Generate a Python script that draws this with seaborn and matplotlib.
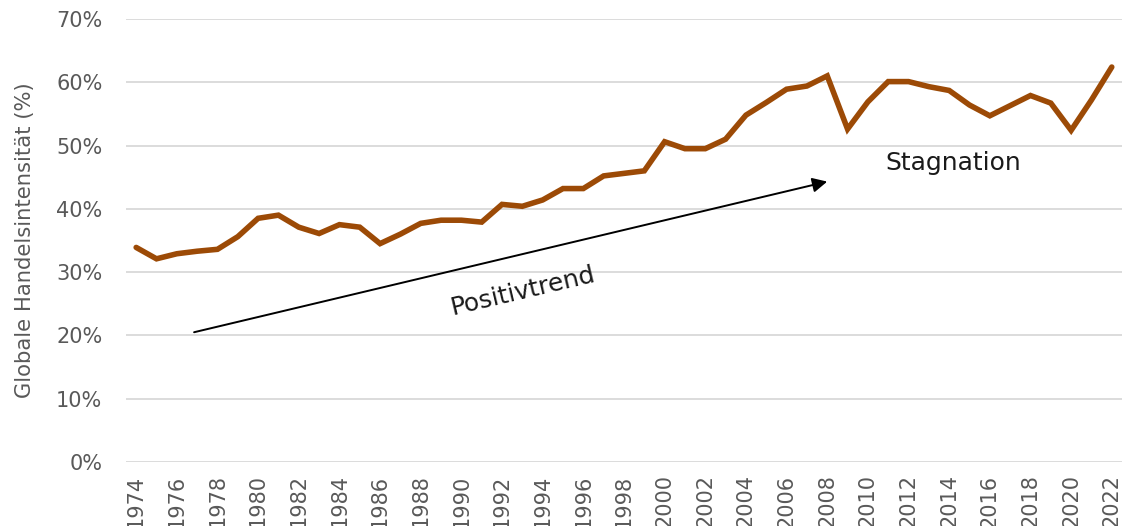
import pandas as pd
import matplotlib.pyplot as plt
import seaborn as sns

# Globale Handelsintensität in %
years = list(range(1974, 2023))
intensity = [
    33.9, 32.1, 32.9, 33.3, 33.6, 35.6, 38.5, 39.0, 37.1, 36.1,
    37.5, 37.1, 34.5, 36.0, 37.7, 38.2, 38.2, 37.9, 40.7, 40.4,
    41.4, 43.2, 43.2, 45.2, 45.6, 46.0, 50.6, 49.5, 49.5, 51.0,
    54.8, 56.8, 58.9, 59.4, 61.0, 52.6, 56.9, 60.1, 60.1, 59.3,
    58.7, 56.4, 54.7, 56.3, 57.9, 56.7, 52.4, 57.2, 62.4,
]
y_ticks = [0, 10, 20, 30, 40, 50, 60, 70]
x_ticks = list(range(1974, 2023, 2))

trend_start = (1976.85, 20.5)
trend_end = (2008.0, 44.3)

df = pd.DataFrame({'Jahr': years, 'Intensität': intensity})

sns.set_theme(style="white")
plt.rcParams['font.family'] = ['DejaVu Sans']

fig = plt.figure(figsize=(11.26, 5.26), dpi=100)
ax = fig.add_axes([0.1119, 0.1217, 0.8845, 0.8423])

sns.lineplot(data=df, x='Jahr', y='Intensität', ax=ax,
             color="#9C4A06", linewidth=4.0, solid_joinstyle='miter')

ax.set_xlim(1973.5, 2022.5)
ax.set_ylim(0, 70)
ax.set_yticks(y_ticks)
ax.set_yticklabels([f"{v}%" for v in y_ticks])
ax.set_xticks(x_ticks)
ax.set_xticklabels([str(v) for v in x_ticks], rotation=90, va='top', ha='center')
ax.yaxis.grid(True, color="#D9D9D9", linewidth=1.3)
ax.set_axisbelow(True)
for s in ax.spines.values():
    s.set_visible(False)
ax.tick_params(axis='both', length=0, labelsize=15, colors="#595959")
ax.tick_params(axis='y', pad=17)
ax.tick_params(axis='x', pad=9)

ax.set_xlabel("")
ax.set_ylabel("Globale Handelsintensität (%)", fontsize=15.2, color="#595959", labelpad=15)

ax.annotate("", xy=trend_end, xytext=trend_start,
            arrowprops=dict(arrowstyle='-|>', color='black', lw=1.4,
                            mutation_scale=22, shrinkA=0, shrinkB=0))
ax.text(1993.0, 27.0, "Positivtrend", rotation=13.3, ha='center', va='center',
        fontsize=18, color='#1a1a1a')
ax.text(2014.2, 47.2, "Stagnation", ha='center', va='center',
        fontsize=18, color='#1a1a1a')

plt.savefig("out.png", dpi=100)
plt.close(fig)
